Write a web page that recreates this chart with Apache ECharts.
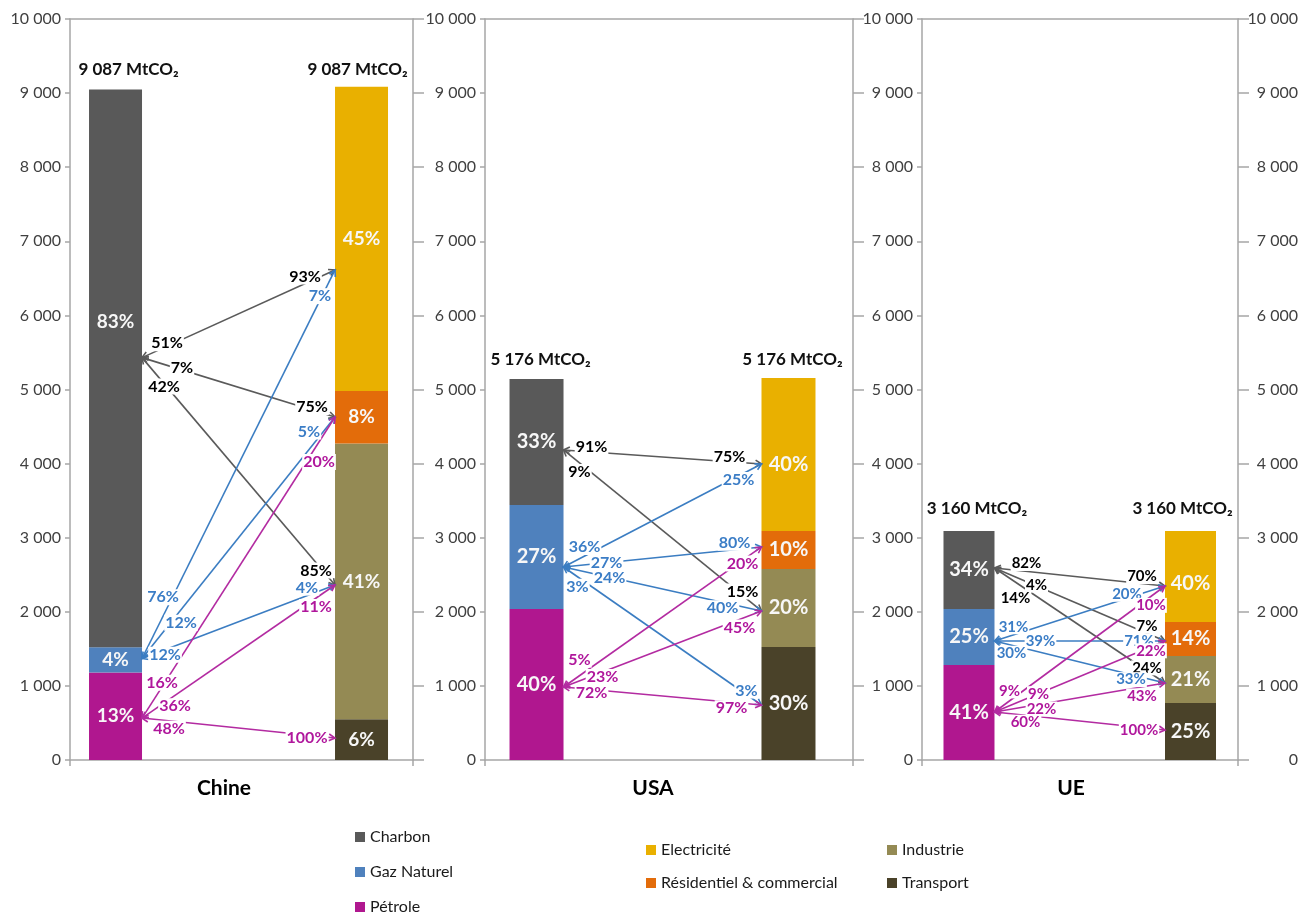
<!DOCTYPE html>
<html>
<head>
<meta charset="utf-8">
<script src="https://cdn.jsdelivr.net/npm/echarts@6/dist/echarts.min.js"></script>
<style>
html,body{margin:0;padding:0;background:#fff;}
#c{width:1314px;height:913px;}
</style>
</head>
<body>
<div id="c"></div>
<script>
// ---------------- DATA ----------------
const PANELS = ['Chine', 'USA', 'UE'];
const TOTALS = [9087, 5176, 3160];                       // MtCO2
const SOURCES = ['Pétrole', 'Gaz Naturel', 'Charbon'];   // bottom -> top
const SECTORS = ['Transport', 'Industrie', 'Résidentiel & commercial', 'Electricité']; // bottom -> top
const Y_MIN = 0, Y_MAX = 10000, Y_STEP = 1000;

// segment heights (MtCO2)
const chineSources = [1180, 340, 7530];
const chineSectors = [550, 3720, 710, 4107];
const usaSources   = [2038, 1403, 1700];
const usaSectors   = [1525, 1053, 512, 2065];
const ueSources    = [1282, 756, 1052];
const ueSectors    = [769, 634, 459, 1228];

// percentages printed in the bars
const chineSourcePct = [13, 4, 83];
const chineSectorPct = [6, 41, 8, 45];
const usaSourcePct   = [40, 27, 33];
const usaSectorPct   = [30, 20, 10, 40];
const ueSourcePct    = [41, 25, 34];
const ueSectorPct    = [25, 21, 14, 40];

// level (MtCO2) where the flow arrows touch each segment
const chineSourceAnchor = [566, 1370, 5430];
const chineSectorAnchor = [297, 2362, 4629, 6613];
const usaSourceAnchor   = [985, 2605, 4184];
const usaSectorAnchor   = [742, 2011, 2875, 3995];
const ueSourceAnchor    = [648, 1606, 2591];
const ueSectorAnchor    = [405, 1039, 1606, 2348];

// flows: [source index, sector index, % of source, % of sector]
const chineFlows = [
  [2,3,51,93],[2,2,7,75],[2,1,42,85],
  [1,3,76,7],[1,2,12,5],[1,1,12,4],
  [0,2,16,20],[0,1,36,11],[0,0,48,100]
];
const usaFlows = [
  [2,3,91,75],[2,1,9,15],
  [1,3,36,25],[1,2,27,80],[1,1,24,40],[1,0,3,3],
  [0,2,5,20],[0,1,23,45],[0,0,72,97]
];
const ueFlows = [
  [2,3,82,70],[2,2,4,7],[2,1,14,24],
  [1,3,31,20],[1,2,39,71],[1,1,30,33],
  [0,3,9,10],[0,2,9,22],[0,1,22,43],[0,0,60,100]
];

const PANEL_DATA = [
  {src: chineSources, dst: chineSectors, srcPct: chineSourcePct, dstPct: chineSectorPct, srcAnc: chineSourceAnchor, dstAnc: chineSectorAnchor, flows: chineFlows},
  {src: usaSources, dst: usaSectors, srcPct: usaSourcePct, dstPct: usaSectorPct, srcAnc: usaSourceAnchor, dstAnc: usaSectorAnchor, flows: usaFlows},
  {src: ueSources, dst: ueSectors, srcPct: ueSourcePct, dstPct: ueSectorPct, srcAnc: ueSourceAnchor, dstAnc: ueSectorAnchor, flows: ueFlows}
];

// ---------------- LAYOUT & STYLE ----------------
const FONT = 'Lato, "Open Sans", sans-serif';
const AX = '#a6a6a6';
const SRC_COLORS = ['#b0178f', '#4f81bd', '#595959'];
const DST_COLORS = ['#4a4229', '#948a54', '#e36c0a', '#e9b000'];
const FLOW_LINE = ['#b32ba1', '#3b7dc2', '#5a5a5a'];
const FLOW_TEXT = ['#b0179c', '#3b7dc6', '#000000'];

const LAYOUT = [
  {left: 70, width: 343, barL: 0.1327, barR: 0.8499, barW: 53, flowFont: 16, barFont: 19,
   leftLabels: true, rightLabels: false, catX: 224, totOff: [13, -4], srcLblDy: [0, 0, -47], dstLblDy: [0, 0, 0, 0],
   lbl: [[25,-3,30,-7],[40,-2,23,-3],[22,3,19,8],[21,-19,15,-4],[39,13,26,-18],[23,5,28,-8],[20,-4,16,20],[33,11,19,9],[27,8,28,3]]},
  {left: 485, width: 368, barL: 0.140, barR: 0.8247, barW: 54, flowFont: 16, barFont: 20,
   leftLabels: true, rightLabels: false, catX: 653, totOff: [4, 4], srcLblDy: [0, 0, 0], dstLblDy: [0, 0, 0, 10],
   lbl: [[28,-5,32,-5],[16,9,19,-4],[21,-9,23,4],[43,0,27,-7],[46,1,39,6],[14,10,15,-4],[16,-16,19,3],[39,5,22,8],[28,3,30,6]]},
  {left: 922, width: 316, barL: 0.1487, barR: 0.8497, barW: 51, flowFont: 15, barFont: 20,
   leftLabels: true, rightLabels: true, catX: 1071, totOff: [8, -8], srcLblDy: [0, 0, 0], dstLblDy: [0, 0, 0, 7],
   lbl: [[32,-8,23,-7],[42,-1,18,-7],[21,16,18,-3],[19,-8,38,-4],[46,0,26,0],[17,8,34,5],[15,-10,14,9],[44,0,14,4],[47,5,23,9],[31,7,26,3]]}
];

// legend item placement: [name, left, centre y]
const LEGEND_POS = [
  ['Charbon', 355, 837], ['Gaz Naturel', 355, 872], ['Pétrole', 355, 907],
  ['Electricité', 646, 850], ['Résidentiel & commercial', 646, 883],
  ['Industrie', 887, 850], ['Transport', 887, 883]
];

const fmt = v => v >= 1000 ? Math.floor(v / 1000) + ' ' + String(v % 1000).padStart(3, '0') : String(v);
const fmtTot = v => fmt(v) + ' MtCO₂';
const cum = arr => { let s = 0; return arr.map(v => { const r = [s, s + v]; s += v; return r; }); };

// ---------------- OPTION ----------------
const grid = [], xAxis = [], yAxis = [], series = [];

function barRender(L, color, fontSize) {
  return function (params, api) {
    const x = api.value(0);
    const p0 = api.coord([x, api.value(1)]);
    const p1 = api.coord([x, api.value(2)]);
    const w = L.barW;
    return {
      type: 'group',
      children: [
        {type: 'rect', shape: {x: p0[0] - w / 2, y: p1[1], width: w, height: p0[1] - p1[1]}, style: {fill: color}},
        {type: 'text', z2: 5, x: p0[0], y: (p0[1] + p1[1]) / 2 + api.value(4),
         style: {text: api.value(3) + '%', fill: '#f7f7f7', fontSize: fontSize, fontWeight: 'bold', fontFamily: FONT, align: 'center', verticalAlign: 'middle'}}
      ]
    };
  };
}

function flowRender(L, flows) {
  return function (params, api) {
    const i = params.dataIndex;
    const a = api.coord([api.value(0), api.value(1)]);
    const b = api.coord([api.value(2), api.value(3)]);
    const hw = L.barW / 2;
    const x1 = a[0] + hw, y1 = a[1], x2 = b[0] - hw, y2 = b[1];
    const s = api.value(6);
    const col = FLOW_LINE[s], tcol = FLOW_TEXT[s];
    const off = L.lbl[i];
    const yAt = x => y1 + (y2 - y1) * (x - x1) / (x2 - x1);
    const ang = Math.atan2(y2 - y1, x2 - x1);
    const head = (px, py, dir) => {
      const len = 7, w = 0.5;
      return {type: 'polyline', z2: 1,
        shape: {points: [[px - len * Math.cos(dir - w), py - len * Math.sin(dir - w)], [px, py], [px - len * Math.cos(dir + w), py - len * Math.sin(dir + w)]]},
        style: {stroke: col, lineWidth: 1.6, fill: null}};
    };
    const sx = x1 + off[0], dx = x2 - off[2];
    const txt = (x, y, t) => ({type: 'text', z2: 10, x: x, y: y,
      style: {text: t, fill: tcol, fontSize: L.flowFont, fontWeight: 'bold', fontFamily: FONT, align: 'center', verticalAlign: 'middle',
              backgroundColor: '#ffffff', padding: [0, 1]}});
    return {
      type: 'group',
      children: [
        {type: 'line', z2: 1, shape: {x1: x1, y1: y1, x2: x2, y2: y2}, style: {stroke: col, lineWidth: 1.6}},
        head(x1, y1, ang + Math.PI),
        head(x2, y2, ang),
        txt(sx, yAt(sx) + off[1], api.value(4) + '%'),
        txt(dx, yAt(dx) + off[3], api.value(5) + '%')
      ]
    };
  };
}

function totalRender(L) {
  return function (params, api) {
    const p = api.coord([api.value(0), api.value(1)]);
    const o = L.totOff[params.dataIndex];
    return {type: 'text', x: p[0] + o, y: p[1] - 17,
      style: {text: fmtTot(api.value(1)), fill: '#111', fontSize: 17, fontWeight: 'bold', fontFamily: FONT, align: 'center', verticalAlign: 'middle'}};
  };
}

const axisLineStyle = {color: AX, width: 1.5};

LAYOUT.forEach((L, p) => {
  const D = PANEL_DATA[p];
  grid.push({left: L.left, width: L.width, top: 19, height: 741, show: false});
  xAxis.push({type: 'value', gridIndex: p, min: 0, max: 1, interval: 1, position: 'bottom',
    axisLine: {show: true, onZero: false, lineStyle: axisLineStyle},
    axisTick: {show: true, length: 6, lineStyle: axisLineStyle},
    axisLabel: {show: false}, splitLine: {show: false}});
  xAxis.push({type: 'value', gridIndex: p, min: 0, max: 1, interval: 1, position: 'top',
    axisLine: {show: true, onZero: false, lineStyle: axisLineStyle},
    axisTick: {show: false}, axisLabel: {show: false}, splitLine: {show: false}});
  yAxis.push({type: 'value', gridIndex: p, min: Y_MIN, max: Y_MAX, interval: Y_STEP, position: 'left',
    axisLine: {show: true, onZero: false, lineStyle: axisLineStyle},
    axisTick: {show: true, length: 5, lineStyle: axisLineStyle},
    axisLabel: {show: L.leftLabels, formatter: fmt, fontSize: 16, color: '#404040', fontFamily: FONT, margin: 9, align: 'right'},
    splitLine: {show: false}});
  yAxis.push({type: 'value', gridIndex: p, min: Y_MIN, max: Y_MAX, interval: Y_STEP, position: 'right',
    axisLine: {show: true, onZero: false, lineStyle: axisLineStyle},
    axisTick: {show: true, length: 11, lineStyle: axisLineStyle},
    axisLabel: {show: L.rightLabels, formatter: fmt, fontSize: 16, color: '#404040', fontFamily: FONT, margin: 60, align: 'right'},
    splitLine: {show: false}});

  const xi = p * 2, yi = p * 2;
  cum(D.src).forEach((r, s) => {
    series.push({type: 'custom', name: SOURCES[s], xAxisIndex: xi, yAxisIndex: yi, clip: false,
      itemStyle: {color: SRC_COLORS[s]}, encode: {x: 0, y: [1, 2]},
      data: [[L.barL, r[0], r[1], D.srcPct[s], L.srcLblDy[s]]],
      renderItem: barRender(L, SRC_COLORS[s], L.barFont)});
  });
  cum(D.dst).forEach((r, s) => {
    series.push({type: 'custom', name: SECTORS[s], xAxisIndex: xi, yAxisIndex: yi, clip: false,
      itemStyle: {color: DST_COLORS[s]}, encode: {x: 0, y: [1, 2]},
      data: [[L.barR, r[0], r[1], D.dstPct[s], L.dstLblDy[s]]],
      renderItem: barRender(L, DST_COLORS[s], L.barFont)});
  });
  series.push({type: 'custom', name: 'flows-' + PANELS[p], xAxisIndex: xi, yAxisIndex: yi, clip: false, z: 3,
    encode: {x: [0, 2], y: [1, 3]},
    data: D.flows.map(f => [L.barL, D.srcAnc[f[0]], L.barR, D.dstAnc[f[1]], f[2], f[3], f[0]]),
    renderItem: flowRender(L, D.flows)});
  series.push({type: 'custom', name: 'total-' + PANELS[p], xAxisIndex: xi, yAxisIndex: yi, clip: false,
    encode: {x: 0, y: 1},
    data: [[L.barL, TOTALS[p]], [L.barR, TOTALS[p]]],
    renderItem: totalRender(L)});
});

const legendText = {fontSize: 16, color: '#1a1a1a', fontFamily: FONT, lineHeight: 16};
const option = {
  backgroundColor: '#ffffff',
  animation: false,
  grid: grid, xAxis: xAxis, yAxis: yAxis, series: series,
  legend: LEGEND_POS.map(it => ({
    data: [it[0]], orient: 'horizontal', left: it[1], top: it[2] - 8, itemWidth: 10, itemHeight: 10,
    icon: 'rect', selectedMode: false, padding: 0, textStyle: legendText
  })),
  graphic: LAYOUT.map((L, p) => ({type: 'text', x: L.catX, y: 788,
    style: {text: PANELS[p], fill: '#000', fontSize: 21, fontWeight: 'bold', fontFamily: FONT, align: 'center', verticalAlign: 'middle'}}))
};

const chart = echarts.init(document.getElementById('c'), null, {renderer: 'canvas'});
chart.setOption(option);
</script>
</body>
</html>
